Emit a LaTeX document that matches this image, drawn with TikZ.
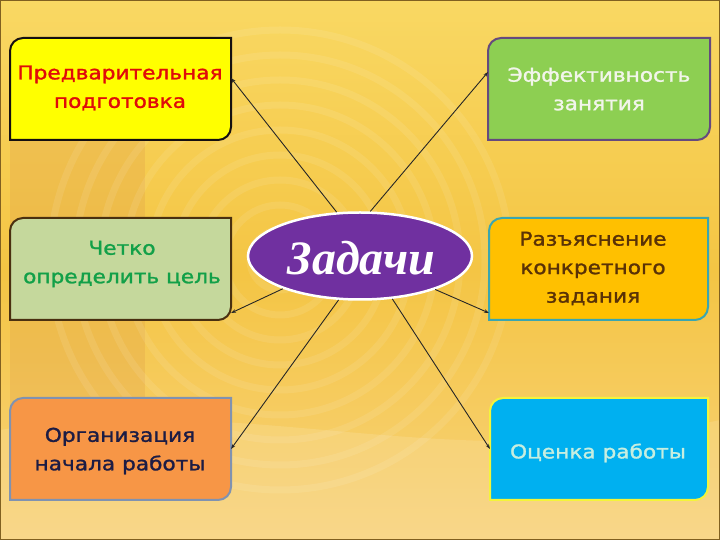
\documentclass[tikz,border=0pt]{standalone}
\usepackage{fontspec}
\setmainfont{DejaVu Sans}
\newfontfamily\boxfont[FakeStretch=1.14,FakeBold=1.4]{DejaVu Sans}
\newfontfamily\titlefont{Liberation Serif}
\usetikzlibrary{arrows.meta,shapes.geometric,calc}
\pgfdeclarelayer{bg}
\pgfdeclarelayer{boxes}
\pgfsetlayers{bg,boxes,main}
\definecolor{bgtop}{HTML}{F9D863}
\definecolor{bgmid}{HTML}{F4C544}
\definecolor{bgbot}{HTML}{F8D27A}
\definecolor{bandc}{HTML}{E2A64A}
\definecolor{framec}{HTML}{806020}
\definecolor{fyellow}{HTML}{FFFF00}
\definecolor{fgreen}{HTML}{8DCF52}
\definecolor{flgreen}{HTML}{C5D89C}
\definecolor{forange}{HTML}{FFC000}
\definecolor{fcoral}{HTML}{F79646}
\definecolor{fcyan}{HTML}{00B0F0}
\definecolor{dblack}{HTML}{151010}
\definecolor{dpurple}{HTML}{654A7E}
\definecolor{dbrown}{HTML}{4A3010}
\definecolor{dteal}{HTML}{3AA6B0}
\definecolor{dslate}{HTML}{8092B0}
\definecolor{dyellow}{HTML}{F4F43A}
\definecolor{tred}{HTML}{E00A0A}
\definecolor{twhite}{HTML}{F2F5EA}
\definecolor{tgreen}{HTML}{12A048}
\definecolor{tbrown}{HTML}{5A3206}
\definecolor{tnavy}{HTML}{1C1C44}
\definecolor{tpale}{HTML}{C6EEE0}
\definecolor{epurple}{HTML}{7030A0}
\tikzset{
  boxn/.style={minimum height=102, inner sep=0, outer sep=0},
  boxtext/.style={align=center, inner sep=0, font=\boxfont\fontsize{19}{28.5}\selectfont},
  conn/.style={draw=black!85, line width=0.9, -{Stealth[length=5pt,width=3.5pt]}},
  titlet/.style={inner sep=0, font=\titlefont\bfseries\itshape\fontsize{48}{48}\selectfont}
}
\newcommand\cornerbox[3]{%
  \begin{pgfonlayer}{boxes}
  \draw[line width=2, fill=#2, draw=#3]
    ([yshift=-13]#1.north west) arc[start angle=180, end angle=90, radius=13]
    -- (#1.north east) -- ([yshift=13]#1.south east)
    arc[start angle=0, end angle=-90, radius=13]
    -- (#1.south west) -- cycle;
  \end{pgfonlayer}}
\begin{document}
\begin{tikzpicture}[x=1pt,y=1pt]
\useasboundingbox (0,0) rectangle (720,540);
\begin{pgfonlayer}{bg}
  \shade[top color=bgtop, bottom color=bgbot, middle color=bgmid] (0,0) rectangle (720,540);
  \fill[bandc, opacity=0.35] (10,130) rectangle (145,400);
  \foreach \r in {30,55,...,230} {
    \draw[white, opacity=0.09, line width=7] (280,280) circle[radius=\r];
  }
  \fill[white, opacity=0.12] (0,0) -- (0,110) .. controls (250,150) and (450,60) .. (720,120) -- (720,0) -- cycle;
  \draw[framec, line width=1.2] (0.6,0.6) rectangle (719.4,539.4);
\end{pgfonlayer}

% boxes
\node[boxn, minimum width=221] (tl) at (120.5,451) {};
\node[boxn, minimum width=222] (tr) at (599,451) {};
\node[boxn, minimum width=221] (ml) at (120.5,271) {};
\node[boxn, minimum width=219] (mr) at (598.5,271) {};
\node[boxn, minimum width=221] (bl) at (120.5,91) {};
\node[boxn, minimum width=218] (br) at (599,91) {};
\cornerbox{tl}{fyellow}{dblack}
\cornerbox{tr}{fgreen}{dpurple}
\cornerbox{ml}{flgreen}{dbrown}
\cornerbox{mr}{forange}{dteal}
\cornerbox{bl}{fcoral}{dslate}
\cornerbox{br}{fcyan}{dyellow}

\node[boxtext, text=tred] (tlt) at (120,452) {Предварительная\\подготовка};
\node[boxtext, text=twhite] (trt) at (599,451) {Эффективность\\занятия};
\node[boxtext, text=tgreen] (mlt) at (122,276) {Четко\\определить цель};
\node[boxtext, text=tbrown] (mrt) at (593,271.5) {Разъяснение\\конкретного\\задания};
\node[boxtext, text=tnavy] (blt) at (120,89) {Организация\\начала работы};
\node[boxtext, text=tpale] (brt) at (598,87) {Оценка работы};

% centre
\node[ellipse, fill=epurple, draw=white, line width=2.5, minimum width=224, minimum height=87, inner sep=0] (e) at (360,284) {};
\node[titlet, text=white] (tt) at (361.5,282) {Задачи};

% connectors
\draw[conn] (e.118.7) -- ([yshift=11]tl.east);
\draw[conn] (e.77) -- ([yshift=17]tr.west);
\draw[conn] (e.203.6) -- ([yshift=-44]ml.east);
\draw[conn] (e.-24) -- ([yshift=-44]mr.west);
\draw[conn] (e.244) -- (bl.east);
\draw[conn] (e.-53) -- (br.west);
\end{tikzpicture}
\end{document}
